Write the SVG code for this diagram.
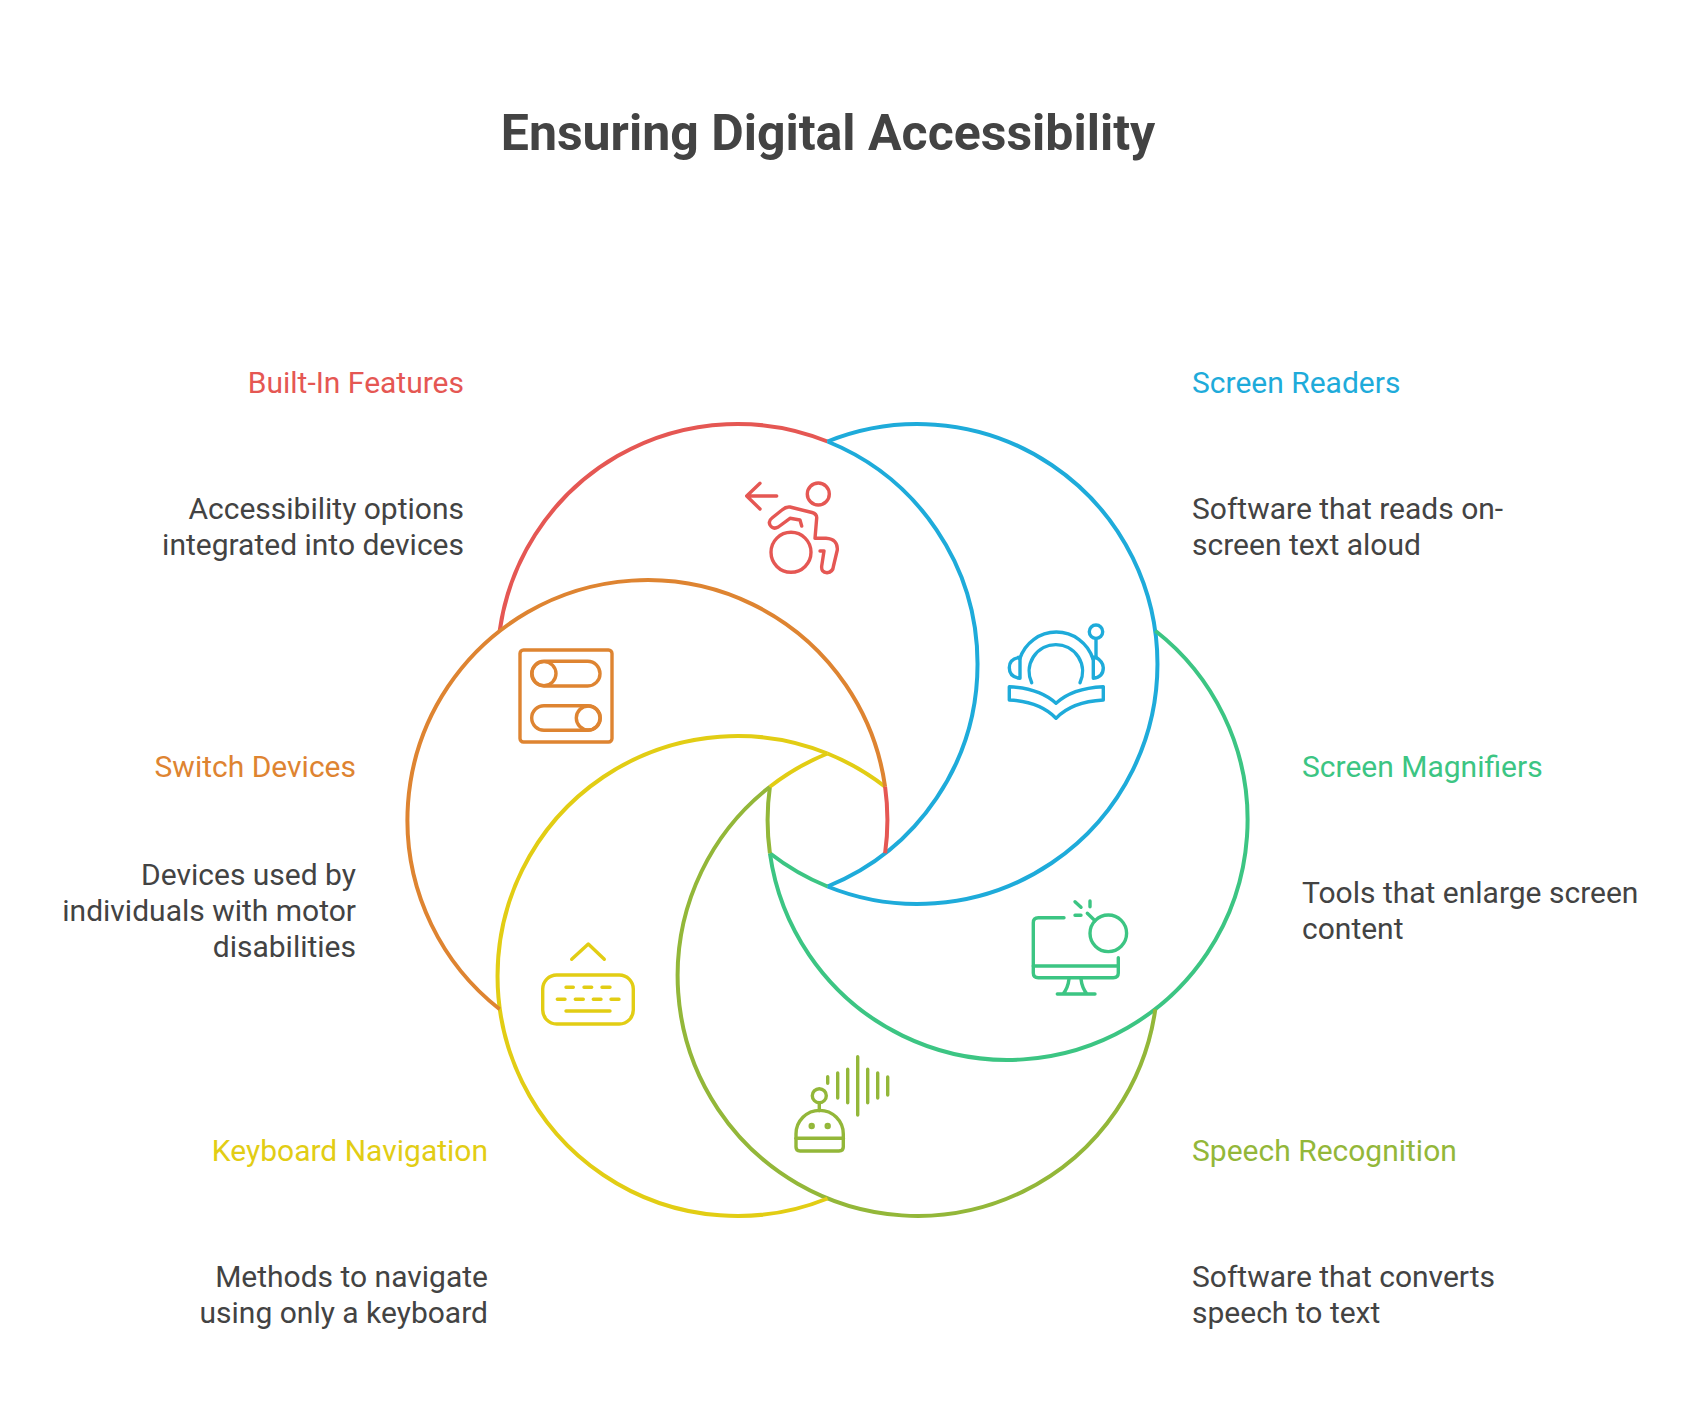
<svg xmlns="http://www.w3.org/2000/svg" width="1706" height="1428" viewBox="0 0 1706 1428">
<style>
text{font-family:Roboto,"Liberation Sans",sans-serif;font-size:30px;fill:#434343}
.title{font-size:50px;font-weight:700}
.e{text-anchor:end}
.ring{fill:none;stroke-width:4}
.ic{fill:none;stroke-width:3.4;stroke-linecap:round;stroke-linejoin:round}
.red{stroke:#E55753}.blue{stroke:#1EABDA}.green{stroke:#3CC583}.lime{stroke:#93B739}.yellow{stroke:#E2CD14}.orange{stroke:#DE8431}
.tred{fill:#E55753}.tblue{fill:#1EABDA}.tgreen{fill:#3CC583}.tlime{fill:#93B739}.tyellow{fill:#E2CD14}.torange{fill:#DE8431}
</style>
<rect width="1706" height="1428" fill="#fff"/>
<text id="title" class="title" x="828" y="150" text-anchor="middle">Ensuring Digital Accessibility</text>

<g id="built-in-features">
<path class="ring red" d="M499.7 630.75A240 240 0 0 1 827.5 441.5"/>
<path class="ring blue" d="M827.5 441.5A240 240 0 0 1 827.5 886.5"/>
<g class="ic red">
<path d="M776.7 496H747M760 483.3L746.7 496L760 509"/>
<circle cx="818.3" cy="494" r="11"/>
<circle cx="791" cy="552.3" r="20"/>
<path d="M801.7 526L800 520L790 518.3L778.3 527Q773 530 770 525Q768 521 772 518L782 510Q786 506.5 790 507L812 512.5Q817 514 816.7 518L815 538.3H826Q838 539 837.3 550L833.5 566Q833 572 827 572.7Q821 572.5 821.7 566L824 551H820"/>
</g>
<text class="e tred" x="464" y="393">Built-In Features</text>
<text class="e" x="464" y="519">Accessibility options</text>
<text class="e" x="464" y="555">integrated into devices</text>
</g>

<g id="screen-readers">
<path class="ring blue" d="M827.5 441.5A240 240 0 1 1 827.5 886.5"/>
<path class="ring green" d="M827.5 886.5A240 240 0 0 1 769.9 853.25"/>
<g class="ic blue">
<circle cx="1096" cy="631.7" r="6.7"/>
<path d="M1096 639V658"/>
<path d="M1019.7 659A38.4 38.4 0 0 1 1093 659"/>
<path d="M1031.7 682.7A26.7 26.7 0 1 1 1080 682.7"/>
<path d="M1020 657.3V678.3Q1009.3 677 1009.3 667.7Q1009.3 658.5 1020 657.3Z"/>
<path d="M1093.3 657.3V678.3Q1103.3 677 1103.3 667.7Q1103.3 662 1096 657.3Z"/>
<path d="M1009.3 686.7Q1040 688.3 1056 703.3Q1071.7 688.3 1103.3 686.7V700Q1071.7 701.7 1056 718.3Q1040 701.7 1009.3 700Z"/>
</g>
<text class="tblue" x="1192" y="393">Screen Readers</text>
<text x="1192" y="519">Software that reads on-</text>
<text x="1192" y="555">screen text aloud</text>
</g>

<g id="screen-magnifiers">
<path class="ring green" d="M1155.3 630.75A240 240 0 1 1 769.9 853.25"/>
<path class="ring lime" d="M769.9 853.25A240 240 0 0 1 769.9 786.75"/>
<g class="ic green">
<path d="M1064 917.7H1038.3Q1033.3 917.7 1033.3 922.7V973Q1033.3 977.7 1038.3 977.7H1113.3Q1118.3 977.7 1118.3 973V957.7"/>
<path d="M1033.3 966H1118.3"/>
<path d="M1069 979Q1068 988 1063 994M1081 979Q1082 988 1087 994M1057.3 994H1095"/>
<circle cx="1108.3" cy="933.3" r="18.3"/>
<path d="M1087.3 913.3L1095 920.7M1075 901.7L1081 907.3M1090 901V906.7M1075 915.3H1081"/>
</g>
<text class="tgreen" x="1302" y="777">Screen Magnifiers</text>
<text x="1302" y="903">Tools that enlarge screen</text>
<text x="1302" y="939">content</text>
</g>

<g id="speech-recognition">
<path class="ring lime" d="M1155.3 1009.25A240 240 0 1 1 769.9 786.75"/>
<path class="ring yellow" d="M769.9 786.75A240 240 0 0 1 827.5 753.5"/>
<g class="ic lime">
<path d="M827.7 1076.7V1083.3M837.7 1073V1098M847.7 1069.3V1102.7M857.7 1056.7V1115M867.7 1069.3V1102.7M877.7 1073V1098M887.7 1077V1095"/>
<circle cx="819.3" cy="1095.7" r="7"/>
<path d="M819.3 1103V1110.7"/>
<path d="M796 1134A23.6 23.6 0 0 1 843.3 1134V1147Q843.3 1151 839 1151H800Q796 1151 796 1147Z"/>
<path d="M796 1138.3H843.3"/>
<circle cx="811.7" cy="1126" r="1.5"/>
<circle cx="827.7" cy="1126" r="1.5"/>
</g>
<text class="tlime" x="1192" y="1161">Speech Recognition</text>
<text x="1192" y="1287">Software that converts</text>
<text x="1192" y="1323">speech to text</text>
</g>

<g id="keyboard-navigation">
<path class="ring yellow" d="M827.5 1198.5A240 240 0 1 1 827.5 753.5"/>
<path class="ring yellow" d="M827.5 753.5A240 240 0 0 1 885.1 786.75"/>
<g class="ic yellow">
<path d="M571.7 959.3L588.3 944L604.3 959.3"/>
<rect x="542.7" y="975" width="90.6" height="49" rx="14"/>
<path d="M566 987.3H573.3M584 987.3H591.7M602 987.3H610M557.3 999.3H565M575.3 999.3H583.3M593.3 999.3H601M611 999.3H619M566 1011H610"/>
</g>
<text class="e tyellow" x="488" y="1161">Keyboard Navigation</text>
<text class="e" x="488" y="1287">Methods to navigate</text>
<text class="e" x="488" y="1323">using only a keyboard</text>
</g>

<g id="switch-devices">
<path class="ring orange" d="M499.7 1009.25A240 240 0 1 1 885.1 786.75"/>
<path class="ring red" d="M885.1 786.75A240 240 0 0 1 885.1 853.25"/>
<g class="ic orange">
<rect x="520" y="650" width="92" height="92" rx="3.5"/>
<rect x="531.7" y="661.3" width="68.3" height="24.7" rx="12.3"/>
<circle cx="544" cy="673.6" r="12"/>
<rect x="531.7" y="705.7" width="68.3" height="24.6" rx="12.3"/>
<circle cx="588.3" cy="718" r="12"/>
</g>
<text class="e torange" x="356" y="777">Switch Devices</text>
<text class="e" x="356" y="885">Devices used by</text>
<text class="e" x="356" y="921">individuals with motor</text>
<text class="e" x="356" y="957">disabilities</text>
</g>
</svg>
